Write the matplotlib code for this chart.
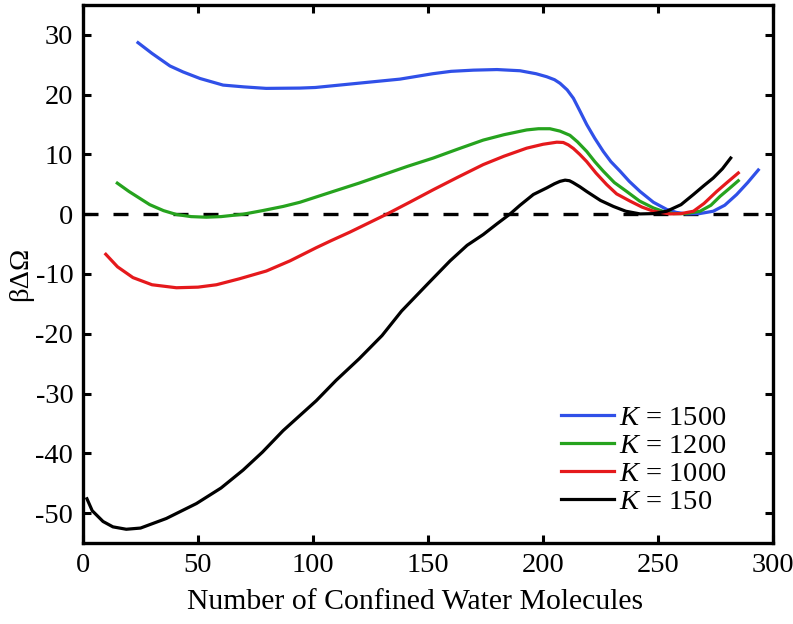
import matplotlib
matplotlib.use("Agg")
import matplotlib.pyplot as plt

# K = 1500
x_1500 = [23.9, 30, 37.8, 43.5, 50.9, 60.9, 70, 79.6, 94.3, 101, 123.3, 137.8, 152, 160,
          169.7, 180, 190, 197, 201.6, 205, 207.4, 210.5, 213.2, 216, 219, 222.5, 226.2, 229.5,
          233.5, 237.5, 242.2, 248, 253.8, 258, 262.5, 268, 274, 279, 284.2, 289, 293.6]
y_1500 = [28.7, 26.9, 24.8, 23.8, 22.7, 21.6, 21.3, 21.05, 21.1, 21.2, 22.05, 22.6, 23.5, 23.9,
          24.1, 24.2, 24.0, 23.5, 23.0, 22.5, 21.9, 20.8, 19.4, 17.3, 15.0, 12.7, 10.5, 8.8,
          7.2, 5.5, 3.8, 2.0, 0.8, 0.3, 0.05, 0.1, 0.5, 1.5, 3.3, 5.3, 7.4]

# K = 1200
x_1200 = [14.9, 20, 29, 35, 40.6, 47, 53.6, 60, 69.6, 78, 87, 94.3, 108.7, 120, 130.5, 141,
          152.3, 163, 174, 183, 192.9, 198, 203, 207.4, 211.7, 215, 219, 222.5, 226.2, 231,
          236.4, 242, 248, 252, 256.7, 262, 268.3, 273, 277, 281, 284.9]
y_1200 = [5.2, 3.8, 1.6, 0.6, -0.05, -0.4, -0.5, -0.4, 0.0, 0.6, 1.3, 2.0, 3.8, 5.2, 6.6, 8.0,
          9.4, 10.9, 12.4, 13.3, 14.1, 14.3, 14.3, 13.9, 13.2, 12.1, 10.5, 8.8, 7.2, 5.3,
          3.8, 2.2, 1.05, 0.5, 0.1, 0.1, 0.5, 1.5, 3.0, 4.3, 5.6]

# K = 1000
x_1000 = [9.9, 15, 21.7, 30, 40.6, 50, 58, 68, 79.7, 90, 101.4, 108, 116, 124, 132, 142,
          152.3, 163, 174, 183, 192.9, 200, 206, 208.8, 211, 213.2, 216, 219, 223, 227.7, 232,
          237.8, 243, 248, 255.2, 260, 265.4, 270, 275.5, 280, 284.9]
y_1000 = [-6.7, -8.8, -10.6, -11.8, -12.3, -12.2, -11.8, -10.8, -9.5, -7.8, -5.6, -4.4, -3.0,
          -1.5, 0.0, 2.0, 4.1, 6.2, 8.3, 9.7, 11.05, 11.7, 12.05, 12.0, 11.6, 11.0, 10.0, 8.8,
          6.9, 4.95, 3.4, 2.2, 1.2, 0.5, 0.05, 0.1, 0.5, 1.8, 3.8, 5.3, 6.9]

# K = 150
x_150 = [1.7, 4, 8.7, 13, 18.8, 25, 36.2, 49.3, 60, 69.6, 78, 87, 101.4, 110, 120, 130, 138.5,
         150, 159.6, 167, 174, 180, 185.7, 190, 195.8, 201.6, 205, 207.4, 209.6, 211.5, 213,
         216, 219, 225, 230.6, 236, 242.2, 248, 253.8, 260, 265.4, 270, 274, 278, 281.6]
y_150 = [-47.6, -49.6, -51.4, -52.3, -52.7, -52.5, -50.9, -48.4, -45.8, -42.8, -39.8, -36.2,
         -31.2, -27.8, -24.2, -20.3, -16.2, -11.6, -7.8, -5.2, -3.4, -1.6, 0.05, 1.5, 3.3,
         4.4, 5.1, 5.5, 5.7, 5.6, 5.3, 4.6, 3.8, 2.3, 1.3, 0.5, 0.05, 0.1, 0.5, 1.6, 3.3, 4.8,
         6.05, 7.6, 9.4]

plt.rcParams['font.family'] = ['Liberation Serif', 'DejaVu Serif']
plt.rcParams['mathtext.fontset'] = 'custom'
plt.rcParams['mathtext.rm'] = 'Liberation Serif'
plt.rcParams['mathtext.it'] = 'Liberation Serif:italic'
plt.rcParams['axes.unicode_minus'] = False

fig = plt.figure(figsize=(7.93, 6.24), dpi=100)
ax = fig.add_axes([0.1047, 0.1298, 0.8701, 0.8622])

ax.plot([0, 300], [0, 0], color='black', lw=2.4, ls=(0, (4.5, 4.5)))
ax.plot(x_1500, y_1500, color='#3050e8', lw=2.3, label='$K$ = 1500')
ax.plot(x_1200, y_1200, color='#26a31e', lw=2.3, label='$K$ = 1200')
ax.plot(x_1000, y_1000, color='#e5191c', lw=2.3, label='$K$ = 1000')
ax.plot(x_150, y_150, color='black', lw=2.3, label='$K$ = 150')

ax.set_xlim(0, 300)
ax.set_ylim(-55, 35)
ax.set_xticks(range(0, 301, 50))
ax.set_yticks(range(-50, 31, 10))
ax.tick_params(direction='in', length=6, width=2.2, labelsize=20.5, top=True, right=True, pad=7)
for s in ax.spines.values():
    s.set_linewidth(2.4)

ax.set_xlabel('Number of Confined Water Molecules', fontsize=21.4, labelpad=8, x=0.481)
ax.set_ylabel('βΔΩ', fontsize=20.5, labelpad=2)

ax.legend(loc='lower left', bbox_to_anchor=(0.693, 0.052), frameon=False, fontsize=20.5,
          handlelength=1.86, handletextpad=0.18, labelspacing=0.07, borderpad=0,
          borderaxespad=0)

fig.savefig('out.png', dpi=100)
